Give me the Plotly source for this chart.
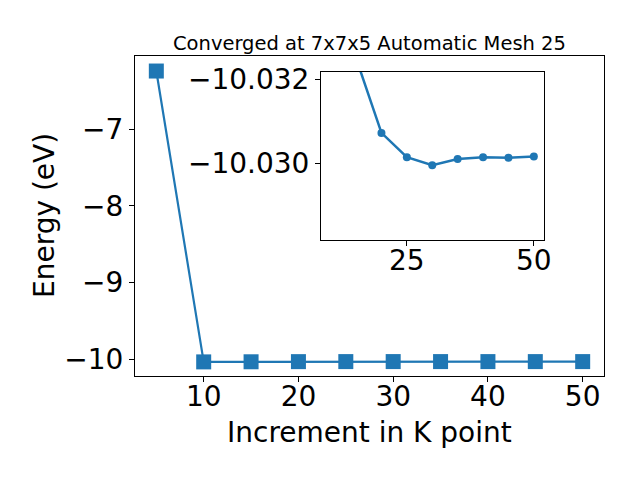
import plotly.graph_objects as go

kpoints = [5, 10, 15, 20, 25, 30, 35, 40, 45, 50]
energy = [-6.24, -10.034, -10.0325, -10.03072, -10.03014, -10.02995, -10.0301, -10.03014, -10.03013, -10.03016]

title_text = "Converged at 7x7x5 Automatic Mesh 25"
xlabel = "Increment in K point"
ylabel = "Energy (eV)"
main_xticks = [10, 20, 30, 40, 50]
main_yticks = [-7, -8, -9, -10]
inset_xticks = [25, 50]
inset_yticks = [-10.032, -10.030]

blue = "#1f77b4"
font = "DejaVu Sans"

fig = go.Figure()
fig.add_trace(go.Scatter(x=kpoints, y=energy, mode="lines+markers",
                         line=dict(color=blue, width=2.2),
                         marker=dict(symbol="square", size=15, color=blue),
                         xaxis="x", yaxis="y", cliponaxis=True))
fig.add_trace(go.Scatter(x=kpoints[1:], y=energy[1:], mode="lines+markers",
                         line=dict(color=blue, width=2.5),
                         marker=dict(symbol="circle", size=8, color=blue),
                         xaxis="x2", yaxis="y2", cliponaxis=True))

axis_common = dict(showline=True, linecolor="black", linewidth=1, mirror=True,
                   ticks="outside", ticklen=5, tickwidth=1, tickcolor="black",
                   showgrid=False, zeroline=False, automargin=False,
                   tickfont=dict(family=font, size=28, color="black"))

fig.update_layout(
    template="none",
    width=632, height=472,
    margin=dict(l=127, r=36, t=48, b=104, pad=0),
    paper_bgcolor="white", plot_bgcolor="white",
    showlegend=False,
    xaxis=dict(domain=[0, 1], range=[2.75, 52.25], tickvals=main_xticks,
               ticklabelstandoff=-10, **axis_common),
    yaxis=dict(domain=[0, 1], range=[-10.218, -6.044], tickvals=main_yticks,
               ticktext=["\u22127", "\u22128", "\u22129", "\u221210"], **axis_common),
    xaxis2=dict(domain=[0.3966, 0.8721], range=[8.1, 52.0], tickvals=inset_xticks,
                ticklabelstandoff=-10, anchor="y2", **axis_common),
    yaxis2=dict(domain=[0.425, 0.95], range=[-10.02817, -10.03217], tickvals=inset_yticks,
                ticktext=["\u221210.032", "\u221210.030"],
                anchor="x2", **axis_common),
    annotations=[
        dict(text=title_text, xref="paper", yref="paper", x=0.5, y=(376 - 43) / 320,
             xanchor="center", yanchor="middle", showarrow=False,
             font=dict(family=font, size=19.5, color="black")),
        dict(text=xlabel, xref="paper", yref="paper", x=0.5, y=(376 - 432) / 320,
             xanchor="center", yanchor="middle", showarrow=False,
             font=dict(family=font, size=28, color="black")),
        dict(text=ylabel, xref="paper", yref="paper", x=-(135 - 44) / 469, y=0.5,
             xanchor="center", yanchor="middle", showarrow=False, textangle=-90,
             font=dict(family=font, size=28, color="black")),
    ],
)

fig.write_html("out.html")
